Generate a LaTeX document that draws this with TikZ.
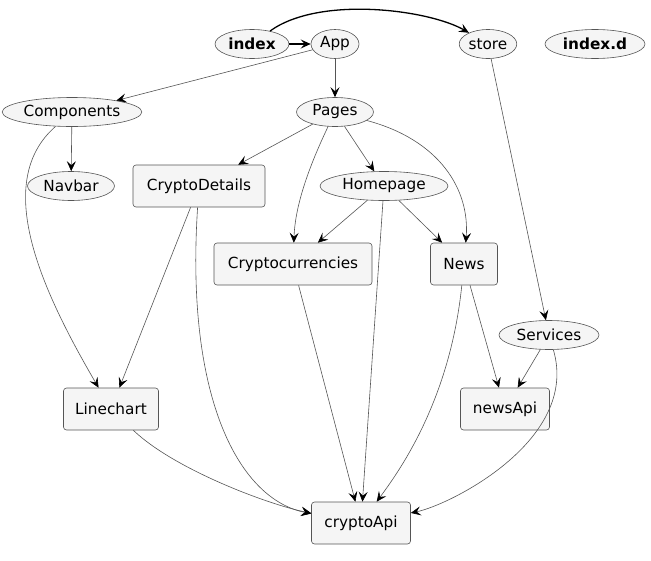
\documentclass[tikz,border=0pt]{standalone}
\usepackage{fontspec}
\setmainfont{DejaVu Sans}
\usetikzlibrary{shapes.geometric, arrows.meta}
\definecolor{nodefill}{HTML}{F5F5F5}
\definecolor{edgegray}{HTML}{555555}
\begin{document}
\begin{tikzpicture}[x=1pt, y=-1pt,
    font=\fontsize{15.3}{17}\selectfont,
    oval/.style={draw=edgegray, fill=nodefill, line width=0.6pt, ellipse, inner xsep=1pt, inner ysep=0pt, minimum height=29pt},
    box/.style={draw=edgegray, fill=nodefill, line width=0.6pt, rounded corners=3pt, inner xsep=8pt, minimum height=42pt},
    dep/.style={draw=edgegray, line width=0.6pt, -{Stealth[length=10pt, width=9pt, inset=4pt, black]}},
    entry/.style={draw=black, line width=1.3pt, -{Stealth[length=10pt, width=9pt, inset=4pt]}}]
  \useasboundingbox (0,0) rectangle (651,560);

  % Nodes
  \node[oval, minimum width=74pt] (index) at (252,44) {\textbf{index}};
  \node[oval, minimum width=48pt] (App) at (335,44) {App};
  \node[oval, minimum width=54pt] (store) at (488,44) {store};
  \node[oval, minimum width=100pt] (indexd) at (595,44) {\textbf{index.d}};
  \node[oval, minimum width=139pt] (Components) at (72,112) {Components};
  \node[oval, minimum width=77pt] (Pages) at (335,112) {Pages};
  \node[oval, minimum width=87pt] (Navbar) at (71,186) {Navbar};
  \node[box, minimum width=132pt] (CryptoDetails) at (199,186) {CryptoDetails};
  \node[oval, minimum width=128pt] (Homepage) at (384,186) {Homepage};
  \node[box, minimum width=158pt] (Cryptocurrencies) at (293,264) {Cryptocurrencies};
  \node[box, minimum width=67pt] (News) at (464,264) {News};
  \node[oval, minimum width=100pt] (Services) at (549,335) {Services};
  \node[box, minimum width=95pt] (Linechart) at (111,409) {Linechart};
  \node[box, minimum width=89pt] (newsApi) at (505,409) {newsApi};
  \node[box, minimum width=99pt] (cryptoApi) at (361,523) {cryptoApi};

  % Arrows
  \draw[entry] (index) -- (App);
  \draw[entry] (index) .. controls +(68,-49) and +(-58,-34) .. (store);
  \draw[dep] (App) -- (Components);
  \draw[dep] (App) -- (Pages);
  \draw[dep] (store) -- (Services);
  \draw[dep] (Components) -- (Navbar);
  \draw[dep] (Components) .. controls +(-80,70) and +(-70,-120) .. (Linechart);
  \draw[dep] (Pages) -- (CryptoDetails);
  \draw[dep] (Pages) -- (Homepage);
  \draw[dep] (Pages) .. controls +(-30,63) and +(2,-54) .. (Cryptocurrencies);
  \draw[dep] (Pages) .. controls +(105,28) and +(6,-74) .. (News);
  \draw[dep] (CryptoDetails) -- (Linechart);
  \draw[dep] (CryptoDetails) .. controls +(-14,214) and +(-121,-23) .. (cryptoApi);
  \draw[dep] (Homepage) -- (Cryptocurrencies);
  \draw[dep] (Homepage) -- (News);
  \draw[dep] (Homepage) -- (cryptoApi);
  \draw[dep] (Cryptocurrencies) -- (cryptoApi);
  \draw[dep] (News) .. controls +(-14,136) and +(39,-53) .. (cryptoApi);
  \draw[dep] (News) -- (newsApi);
  \draw[dep] (Services) -- (newsApi);
  \draw[dep] (Services) .. controls +(31,105) and +(89,-18) .. (cryptoApi);
  \draw[dep] (Linechart) .. controls +(64,61) and +(-91,-18) .. (cryptoApi);
\end{tikzpicture}
\end{document}
